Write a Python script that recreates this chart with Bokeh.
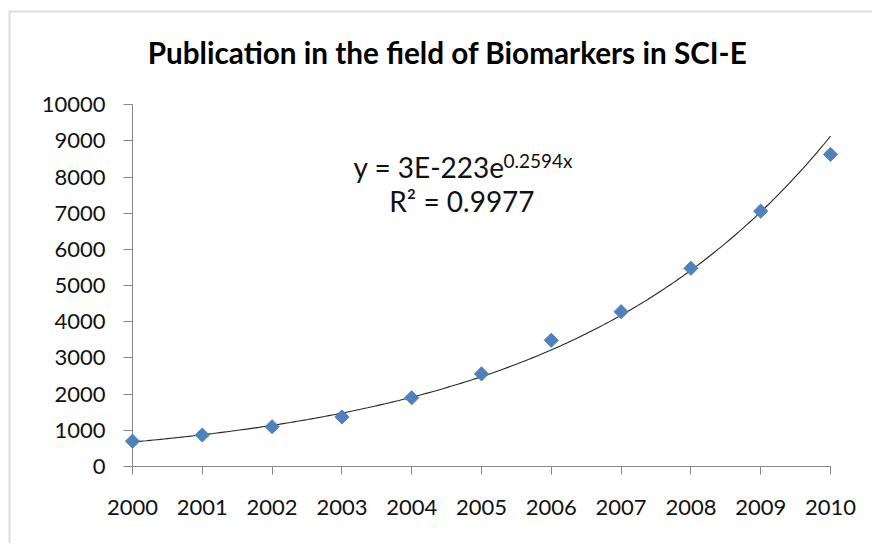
import math
import numpy as np
from bokeh.plotting import figure
from bokeh.models import FixedTicker, Label, Range1d, BoxAnnotation
from bokeh.embed import file_html
from bokeh.resources import INLINE

# ---- data ----
years = [2000, 2001, 2002, 2003, 2004, 2005, 2006, 2007, 2008, 2009, 2010]
publications = [700, 870, 1100, 1370, 1900, 2560, 3490, 4280, 5480, 7060, 8630]
y_ticks = [0, 1000, 2000, 3000, 4000, 5000, 6000, 7000, 8000, 9000, 10000]
title_text = "Publication in the field of Biomarkers in SCI-E"
eq_main = "y = 3E-223e"
eq_sup = "0.2594x"
eq_r2 = "R\u00b2 = 0.9977"

FONT = "Lato"
AXIS_COLOR = "#868686"
TEXT_COLOR = "#111111"

# the frame fills the whole canvas; axes are pinned at x=2000 and y=0
p = figure(width=872, height=543, output_backend="svg", toolbar_location=None,
           x_range=Range1d(1998.1089, 2010.6017), y_range=Range1d(-2129, 12884),
           min_border=0, min_border_left=0, min_border_right=0,
           min_border_top=0, min_border_bottom=0, title=None)
p.background_fill_color = "white"
p.border_fill_color = "white"
p.outline_line_color = None
p.xgrid.visible = False
p.ygrid.visible = False

# chart-area border (left and top edges visible, the rest runs off the canvas)
p.add_layout(BoxAnnotation(left=9, right=3000, top=11, bottom=3000,
                           left_units="canvas", right_units="canvas",
                           top_units="canvas", bottom_units="canvas",
                           fill_alpha=0, line_color="#8c8c8c", line_width=2))

# x axis
xa = p.xaxis[0]
xa.fixed_location = 0
xa.ticker = FixedTicker(ticks=years)
xa.bounds = (years[0], years[-1])
xa.axis_line_color = AXIS_COLOR
xa.major_tick_line_color = AXIS_COLOR
xa.minor_tick_line_color = None
xa.major_tick_in = 0
xa.major_tick_out = 8
xa.major_label_standoff = 26
xa.major_label_text_font = FONT
xa.major_label_text_font_size = "22px"
xa.major_label_text_color = TEXT_COLOR

# y axis
ya = p.yaxis[0]
ya.fixed_location = years[0]
ya.ticker = FixedTicker(ticks=y_ticks)
ya.bounds = (y_ticks[0], y_ticks[-1])
ya.axis_line_color = AXIS_COLOR
ya.major_tick_line_color = AXIS_COLOR
ya.minor_tick_line_color = None
ya.major_tick_in = 0
ya.major_tick_out = 9
ya.major_label_standoff = 18
ya.major_label_text_font = FONT
ya.major_label_text_font_size = "22px"
ya.major_label_text_color = TEXT_COLOR

# exponential trend line fitted from the data
coef = np.polyfit(np.array(years) - years[0], np.log(publications), 1)
tx = np.linspace(years[0], years[-1], 200)
ty = np.exp(coef[1] + coef[0] * (tx - years[0]))
p.line(tx, ty, line_color="#262626", line_width=1.1)

# markers (diamonds), drawn above the axes
p.scatter(years, publications, marker="square", size=10, angle=math.pi / 4,
          fill_color="#4F81BD", line_color="#4F81BD", level="overlay")

# title
p.add_layout(Label(x=2004.513, y=11446, text=title_text, text_font=FONT,
                   text_font_style="bold", text_font_size="29.7px",
                   text_align="center", text_baseline="middle",
                   text_color="#000000"))

# equation
p.add_layout(Label(x=2003.166, y=8273, text=eq_main, text_font=FONT,
                   text_font_size="28px", text_align="left",
                   text_baseline="middle", text_color=TEXT_COLOR))
p.add_layout(Label(x=2005.315, y=8453, text=eq_sup, text_font=FONT,
                   text_font_size="19px", text_align="left",
                   text_baseline="middle", text_color=TEXT_COLOR))
p.add_layout(Label(x=2004.72, y=7334, text=eq_r2, text_font=FONT,
                   text_font_size="28px", text_align="center",
                   text_baseline="middle", text_color=TEXT_COLOR))

open("out.html", "w").write(file_html(p, INLINE))
